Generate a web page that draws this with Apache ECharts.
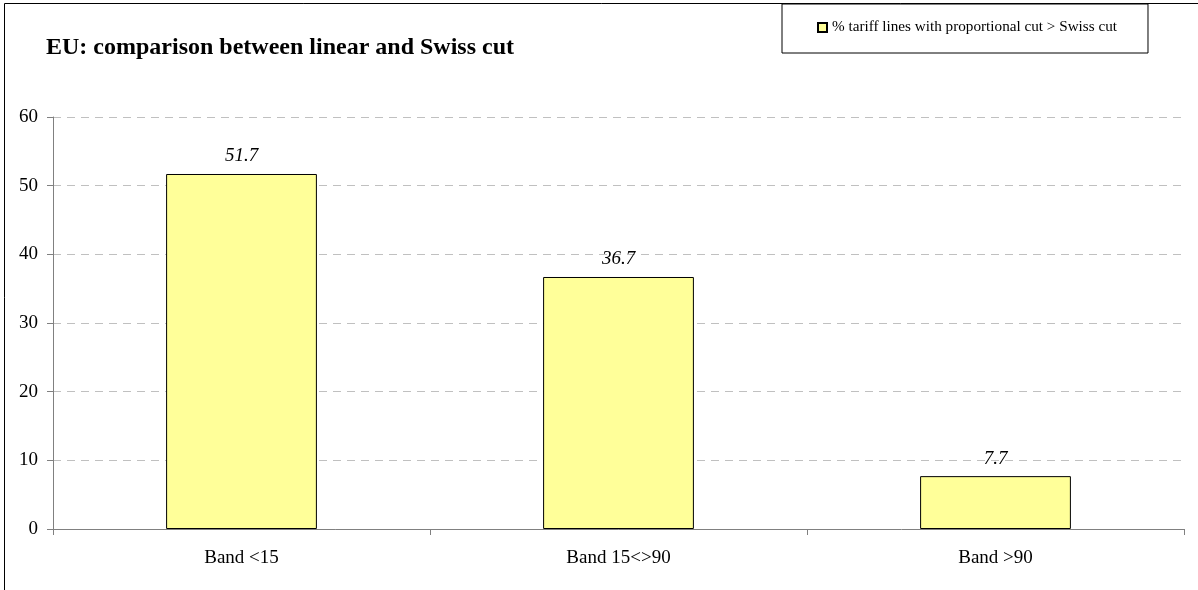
<!DOCTYPE html>
<html lang="en">
<head>
    <meta charset="utf-8">
    <script src="https://cdn.jsdelivr.net/npm/echarts@6/dist/echarts.min.js"></script>
    <style>
        html, body { margin: 0; padding: 0; background: #fff; }
        #chart { width: 1198px; height: 590px; }
    </style>
</head>
<body>
    <div id="chart"></div>
    <script type="text/javascript">
        // data
        var categories = ['Band <15', 'Band 15<>90', 'Band >90'];
        var shareValues = [51.7, 36.7, 7.7];
        var seriesName = '% tariff lines with proportional cut > Swiss cut';
        var yTicks = { min: 0, max: 60, interval: 10 };

        var serif = '"Liberation Serif", "Times New Roman", serif';
        var myChart = echarts.init(document.getElementById('chart'));

        var option = {
            animation: false,
            backgroundColor: '#fff',
            graphic: [{
                type: 'rect',
                shape: { x: 4.5, y: 3.5, width: 1300, height: 700 },
                style: { fill: 'none', stroke: '#000', lineWidth: 1 },
                silent: true
            }],
            title: {
                text: 'EU: comparison between linear and Swiss cut',
                left: 41,
                top: 31,
                textStyle: { fontFamily: serif, fontSize: 24, fontWeight: 'bold', color: '#000' }
            },
            legend: {
                left: 782,
                top: 4,
                padding: [16, 31, 18, 35],
                borderColor: '#000',
                borderWidth: 1,
                itemWidth: 9,
                itemHeight: 9,
                itemGap: 5,
                icon: 'rect',
                textStyle: { fontFamily: serif, fontSize: 15.2, color: '#000' },
                data: [seriesName]
            },
            grid: { left: 53, right: 14, top: 117, bottom: 61 },
            xAxis: {
                type: 'category',
                data: categories,
                axisLine: { lineStyle: { color: '#808080', width: 1 } },
                axisTick: { show: true, length: 6, lineStyle: { color: '#808080' } },
                axisLabel: { fontFamily: serif, fontSize: 19, color: '#000', margin: 20 }
            },
            yAxis: {
                type: 'value',
                min: yTicks.min,
                max: yTicks.max,
                interval: yTicks.interval,
                axisLine: { show: true, lineStyle: { color: '#808080', width: 1 } },
                axisTick: { show: true, length: 6, lineStyle: { color: '#808080' } },
                axisLabel: { fontFamily: serif, fontSize: 19, color: '#000', margin: 15 },
                splitLine: { show: true, lineStyle: { color: '#c0c0c0', type: [8, 6] } }
            },
            series: [{
                name: seriesName,
                type: 'bar',
                data: shareValues,
                barWidth: '40%',
                itemStyle: { color: '#ffff99', borderColor: '#000', borderWidth: 1 },
                label: {
                    show: true,
                    position: 'top',
                    distance: 8,
                    fontFamily: serif,
                    fontSize: 19,
                    fontStyle: 'italic',
                    color: '#000'
                }
            }]
        };

        myChart.setOption(option, true);
    </script>
</body>
</html>
